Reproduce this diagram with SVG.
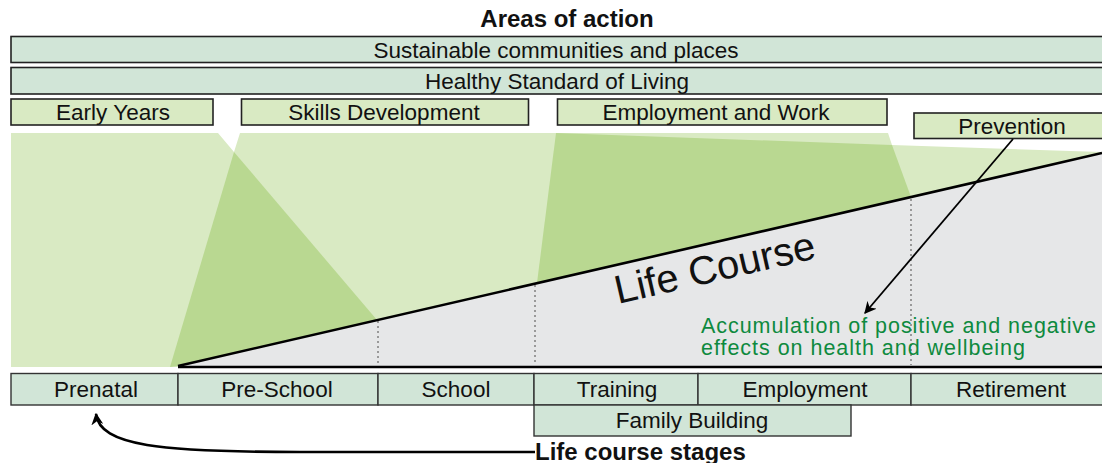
<svg xmlns="http://www.w3.org/2000/svg" width="1102" height="463" viewBox="0 0 1102 463">
<style>
text{font-family:"Liberation Sans",Arial,sans-serif;font-size:22.5px;fill:#111;}
.c{text-anchor:middle;}
.b{font-weight:bold;font-size:24px;}
.bar{fill:#d1e5d7;stroke:#222;stroke-width:1.6;}
.area{fill:#d9eac3;stroke:#222;stroke-width:1.6;}
.stage{fill:#d1e5d7;stroke:#333;stroke-width:1.4;}
.dot{stroke:#999;stroke-width:2;stroke-dasharray:2 3;fill:none;}
.ln{stroke:#000;fill:none;}
.green{fill:#0e8a3e;font-size:21.5px;}
</style>
<defs>
<marker id="ah2" viewBox="0 0 10 10" refX="9" refY="5" markerWidth="12" markerHeight="12" orient="auto" markerUnits="userSpaceOnUse">
<path d="M0,0 L10,5 L0,10 L3,5 Z" fill="#000"/>
</marker>
</defs>

<g id="background">
<polygon points="11,133 218,133 234,152 240,133 888,133 892,145 1102,152 1102,367 11,367" fill="#d9eac3"/>
<polygon points="234,152 170,367 178,366 377,320" fill="#b9d891"/>
<polygon points="556,133 892,145 911,197 537,283" fill="#b9d891"/>
<polygon points="178,366 1102,153 1102,367" fill="#e6e7e8"/>
<line class="dot" x1="378" y1="321" x2="378" y2="365"/>
<line class="dot" x1="535" y1="285" x2="535" y2="365"/>
<line class="dot" x1="911" y1="199" x2="911" y2="365"/>
<line class="ln" x1="178" y1="366" x2="1102" y2="153" stroke-width="2.6"/>
<line class="ln" x1="178" y1="367" x2="1102" y2="367" stroke-width="2.6"/>
<text x="618" y="304" transform="rotate(-13 618 304)" style="font-size:40px">Life Course</text>
<text class="green" x="701" y="333" textLength="395" lengthAdjust="spacing">Accumulation of positive and negative</text>
<text class="green" x="701" y="355" textLength="324" lengthAdjust="spacing">effects on health and wellbeing</text>
</g>

<text class="c b" x="567" y="27">Areas of action</text>

<g id="sustainable">
<rect class="bar" x="11" y="36.5" width="1100" height="26"/>
<text class="c" x="556" y="57.5">Sustainable communities and places</text>
</g>
<g id="healthy">
<rect class="bar" x="11" y="67.5" width="1100" height="26.5"/>
<text class="c" x="557" y="88.5">Healthy Standard of Living</text>
</g>
<g id="early-years">
<rect class="area" x="11" y="99" width="202" height="26"/>
<text class="c" x="113" y="120">Early Years</text>
</g>
<g id="skills">
<rect class="area" x="241.5" y="99" width="287" height="26"/>
<text class="c" x="384" y="120">Skills Development</text>
</g>
<g id="employment-work">
<rect class="area" x="557.5" y="99" width="329.5" height="26"/>
<text class="c" x="716" y="120">Employment and Work</text>
</g>
<g id="prevention">
<rect class="area" x="914" y="113" width="200" height="25.5"/>
<text class="c" x="1012" y="134">Prevention</text>
</g>

<g id="stages">
<g id="prenatal"><rect class="stage" x="11" y="373.5" width="167" height="31.5"/><text class="c" x="96" y="397">Prenatal</text></g>
<g id="preschool"><rect class="stage" x="178" y="373.5" width="200" height="31.5"/><text class="c" x="277" y="397">Pre-School</text></g>
<g id="school"><rect class="stage" x="378" y="373.5" width="156" height="31.5"/><text class="c" x="456" y="397">School</text></g>
<g id="training"><rect class="stage" x="534" y="373.5" width="164" height="31.5"/><text class="c" x="617" y="397">Training</text></g>
<g id="employment"><rect class="stage" x="698" y="373.5" width="213" height="31.5"/><text class="c" x="805" y="397">Employment</text></g>
<g id="retirement"><rect class="stage" x="911" y="373.5" width="200" height="31.5"/><text class="c" x="1011" y="397">Retirement</text></g>
<g id="family"><rect class="stage" x="534" y="405" width="317" height="31"/><text class="c" x="692" y="428">Family Building</text></g>
</g>

<g id="connectors">
<line class="ln" x1="1013" y1="139" x2="865" y2="313" stroke-width="1.8" marker-end="url(#ah2)"/>
<path class="ln" d="M535,452 L300,452 C160,452 100,446 96,414" stroke-width="2.6" marker-end="url(#ah2)"/>
</g>
<text class="b" x="535" y="460">Life course stages</text>
</svg>
